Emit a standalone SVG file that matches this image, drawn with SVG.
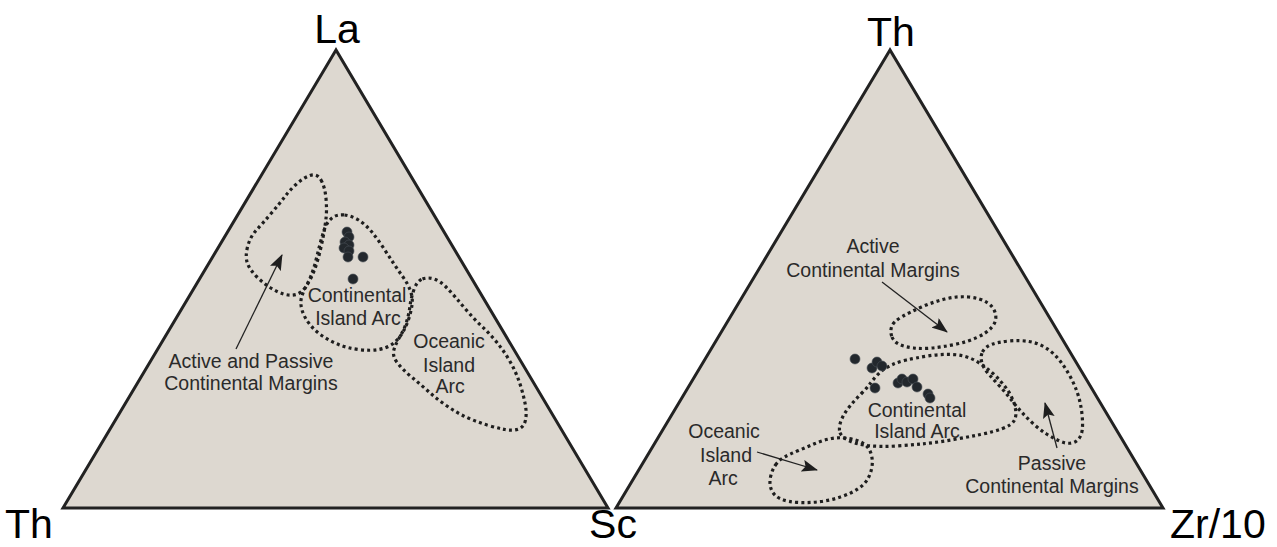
<svg xmlns="http://www.w3.org/2000/svg" width="1277" height="547" viewBox="0 0 1277 547">
<style>
.tri{fill:#ddd8d0;stroke:#222;stroke-width:3;stroke-linejoin:miter}
.field{fill:none;stroke:#1e1e1e;stroke-width:3.2;stroke-dasharray:3 3.2}
.dot{fill:#23282d;stroke:#4a5058;stroke-width:0.6}
.lbl{font-family:"Liberation Sans",Arial,sans-serif;font-size:19.5px;fill:#2a2a2a;text-anchor:middle}
.ax{font-family:"Liberation Sans",Arial,sans-serif;font-size:41px;fill:#000}
.arr{stroke:#222;stroke-width:1.3;fill:none;marker-end:url(#ah)}
</style>
<defs>
<marker id="ah" viewBox="0 0 16 12" refX="15" refY="6" markerWidth="16" markerHeight="12" orient="auto" markerUnits="userSpaceOnUse">
<path d="M0,0 L16,6 L0,12 L3,6 Z" fill="#1e1e1e"/>
</marker>
</defs>
<rect width="1277" height="547" fill="#fff"/>

<g id="left-diagram">
<polygon class="tri" points="336,50 63,508 608,508"/>
<text class="ax" x="337" y="43" text-anchor="middle">La</text>
<text class="ax" x="5" y="538">Th</text>
<text class="ax" x="613" y="538" text-anchor="middle">Sc</text>
</g>

<g id="right-diagram">
<polygon class="tri" points="890,50 616,508 1163,508"/>
<text class="ax" x="891" y="46" text-anchor="middle">Th</text>
<text class="ax" x="1170" y="538">Zr/10</text>
</g>

<g id="left-active-passive">
<path class="field" d="M321,180 Q325,187 326,198.5 Q327,210 326,218.5 Q325,227 323.5,235 Q322,243 320,251.5 Q318,260 315,268.5 Q312,277 307,285 Q302,293 296,294.5 Q290,296 283.5,294 Q277,292 270,287.5 Q263,283 256.5,276.5 Q250,270 247.5,263.5 Q245,257 247.5,247 Q250,237 256.5,230 Q263,223 271.5,213 Q280,203 285,196.5 Q290,190 296.5,184 Q303,178 310,175.5 Q317,173 321,180 Z"/>
<text class="lbl" x="251" y="368">Active and Passive</text>
<text class="lbl" x="251" y="390">Continental Margins</text>
</g>

<g id="left-continental-arc">
<path class="field" d="M344.5,215 Q352,216 358.5,220 Q365,224 371,231 Q377,238 382.5,246.5 Q388,255 393,262.5 Q398,270 403,277 Q408,284 410.5,291 Q413,298 412,305 Q411,312 408.5,319.5 Q406,327 402,333.5 Q398,340 392.5,344 Q387,348 378.5,349.5 Q370,351 358.5,349.5 Q347,348 338.5,344.5 Q330,341 322.5,336 Q315,331 309.5,324 Q304,317 302,310 Q300,303 301.5,297.5 Q303,292 306,286.5 Q309,281 311.5,274.5 Q314,268 316,260 Q318,252 320,244 Q322,236 324.5,229 Q327,222 332,218 Q337,214 344.5,215 Z"/>
<text class="lbl" x="357" y="302">Continental</text>
<text class="lbl" x="358" y="325">Island Arc</text>
</g>

<g id="left-oceanic-arc">
<path class="field" d="M422.5,279 Q428,277 434,279 Q440,281 445.5,286.5 Q451,292 456.5,298.5 Q462,305 468.5,312.5 Q475,320 482.5,327 Q490,334 497,342.5 Q504,351 510,361.5 Q516,372 519.5,382.5 Q523,393 525,403 Q527,413 525.5,420 Q524,427 518.5,429 Q513,431 505,429.5 Q497,428 487,425 Q477,422 467,417.5 Q457,413 447,406 Q437,399 428.5,391.5 Q420,384 411.5,377 Q403,370 397.5,363 Q392,356 394,349.5 Q396,343 400,336.5 Q404,330 406.5,322 Q409,314 410,306 Q411,298 414,289.5 Q417,281 422.5,279 Z"/>
<text class="lbl" x="449" y="348">Oceanic</text>
<text class="lbl" x="449" y="372">Island</text>
<text class="lbl" x="450" y="393">Arc</text>
</g>

<g id="left-samples">
<circle class="dot" cx="347" cy="232" r="5"/>
<circle class="dot" cx="349" cy="237" r="5"/>
<circle class="dot" cx="345" cy="242" r="5"/>
<circle class="dot" cx="349" cy="245" r="5"/>
<circle class="dot" cx="344" cy="248" r="5"/>
<circle class="dot" cx="349" cy="251" r="5"/>
<circle class="dot" cx="348" cy="257" r="5"/>
<circle class="dot" cx="363" cy="257" r="5"/>
<circle class="dot" cx="353" cy="279" r="5"/>
</g>

<g id="right-active">
<path class="field" d="M892,337 Q894,342 899.5,344.5 Q905,347 913.5,348 Q922,349 932,348 Q942,347 954.5,344.5 Q967,342 977,337.5 Q987,333 992,327 Q997,321 995.5,314 Q994,307 987,302.5 Q980,298 968.5,297 Q957,296 945,299 Q933,302 921.5,307 Q910,312 901.5,317 Q893,322 891.5,327 Q890,332 892,337 Z"/>
<text class="lbl" x="873" y="253">Active</text>
<text class="lbl" x="873" y="277">Continental Margins</text>
</g>

<g id="right-continental-arc">
<path class="field" d="M839.5,430.5 Q839,425 842,418.5 Q845,412 850,406 Q855,400 861,394 Q867,388 871,382.5 Q875,377 880,372.5 Q885,368 891.5,365 Q898,362 906.5,360 Q915,358 927.5,356 Q940,354 952.5,354.5 Q965,355 975,360.5 Q985,366 993.5,374 Q1002,382 1007.5,390 Q1013,398 1015,406.5 Q1017,415 1014.5,420 Q1012,425 1002.5,428.5 Q993,432 980.5,434.5 Q968,437 954,439.5 Q940,442 926,443.5 Q912,445 896,446 Q880,447 867.5,445.5 Q855,444 847.5,440 Q840,436 839.5,430.5 Z"/>
<text class="lbl" x="917" y="417">Continental</text>
<text class="lbl" x="917" y="438">Island Arc</text>
</g>

<g id="right-passive">
<path class="field" d="M982.5,352 Q985,347 991.5,344.5 Q998,342 1009,341 Q1020,340 1029,341.5 Q1038,343 1046,348 Q1054,353 1060.5,361.5 Q1067,370 1072,380 Q1077,390 1079.5,400 Q1082,410 1082.5,421 Q1083,432 1080,437 Q1077,442 1071.5,443 Q1066,444 1059.5,441 Q1053,438 1046.5,434 Q1040,430 1033.5,424 Q1027,418 1021.5,412 Q1016,406 1011,399.5 Q1006,393 1000,386.5 Q994,380 989,374.5 Q984,369 982,363 Q980,357 982.5,352 Z"/>
<text class="lbl" x="1052" y="470">Passive</text>
<text class="lbl" x="1052" y="493">Continental Margins</text>
</g>

<g id="right-oceanic-arc">
<path class="field" d="M775.5,465 Q779,460 784.5,457 Q790,454 798.5,450.5 Q807,447 815,443.5 Q823,440 831.5,438.5 Q840,437 849,438.5 Q858,440 863.5,443.5 Q869,447 871,453.5 Q873,460 872,466.5 Q871,473 868,478.5 Q865,484 858.5,488.5 Q852,493 842,496.5 Q832,500 821,501.5 Q810,503 799,502.5 Q788,502 781,499 Q774,496 771.5,490 Q769,484 770.5,477 Q772,470 775.5,465 Z"/>
<text class="lbl" x="724" y="438">Oceanic</text>
<text class="lbl" x="726" y="462">Island</text>
<text class="lbl" x="723" y="485">Arc</text>
</g>

<g id="right-samples">
<circle class="dot" cx="855" cy="359" r="5"/>
<circle class="dot" cx="872" cy="368" r="5"/>
<circle class="dot" cx="877" cy="362" r="5"/>
<circle class="dot" cx="882" cy="366" r="5"/>
<circle class="dot" cx="875" cy="388" r="5"/>
<circle class="dot" cx="898" cy="383" r="5"/>
<circle class="dot" cx="902" cy="379" r="5"/>
<circle class="dot" cx="907" cy="382" r="5"/>
<circle class="dot" cx="913" cy="379" r="5"/>
<circle class="dot" cx="917" cy="387" r="5"/>
<circle class="dot" cx="928" cy="394" r="5"/>
<circle class="dot" cx="930" cy="398" r="5"/>
</g>

<g id="connectors">
<line class="arr" x1="236" y1="349" x2="282" y2="255"/>
<line class="arr" x1="882" y1="282" x2="947" y2="332"/>
<line class="arr" x1="1057" y1="448" x2="1045" y2="403"/>
<line class="arr" x1="757" y1="452" x2="817" y2="470"/>
</g>
</svg>
